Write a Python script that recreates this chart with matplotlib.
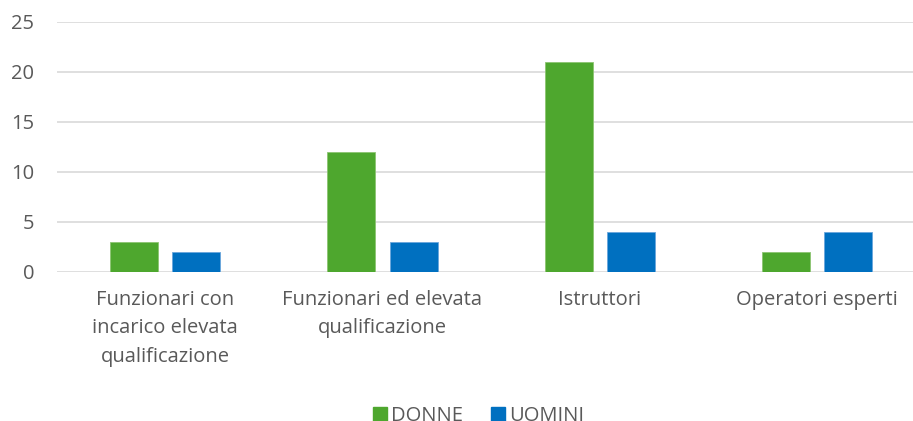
import numpy as np
import matplotlib.pyplot as plt
from matplotlib.patches import Patch

categories = ["Funzionari con\nincarico elevata\nqualificazione",
              "Funzionari ed elevata\nqualificazione",
              "Istruttori",
              "Operatori esperti"]
donne = [3, 12, 21, 2]
uomini = [2, 3, 4, 4]

green = "#4EA72E"
blue = "#0070C0"
txt = "#595959"

plt.rcParams['font.family'] = ['Open Sans', 'DejaVu Sans']

fig = plt.figure(figsize=(9.13, 4.21), dpi=100)
ax = fig.add_axes([0.0619, 0.354, 0.952, 0.594])

x = np.arange(len(categories))
w = 0.221
ax.bar(x - 0.143, donne, w, color=green, edgecolor="#8cc472", linewidth=0.6, zorder=3)
ax.bar(x + 0.143, uomini, w, color=blue, edgecolor="#6aa6dc", linewidth=0.6, zorder=3)

ax.set_xlim(-0.5, 3.5)
ax.set_ylim(0, 25)
ax.set_yticks(range(0, 26, 5))
ax.yaxis.grid(True, color="#d9d9d9", linewidth=1.2, zorder=0)
for s in ax.spines.values():
    s.set_visible(False)
ax.tick_params(length=0, labelsize=14.5, colors=txt)
ax.tick_params(axis='y', pad=16)
ax.tick_params(axis='x', pad=13)
ax.set_xticks(x)
ax.set_xticklabels(categories, linespacing=1.55)

handles = [Patch(color=green), Patch(color=blue)]
fig.legend(handles, ["DONNE", "UOMINI"], loc="center", bbox_to_anchor=(0.524, 0.012),
           ncol=2, frameon=False, fontsize=14.5, labelcolor=txt,
           handlelength=0.7, handleheight=0.7, handletextpad=0.2, columnspacing=1.4)

fig.savefig("out.png", dpi=100)
